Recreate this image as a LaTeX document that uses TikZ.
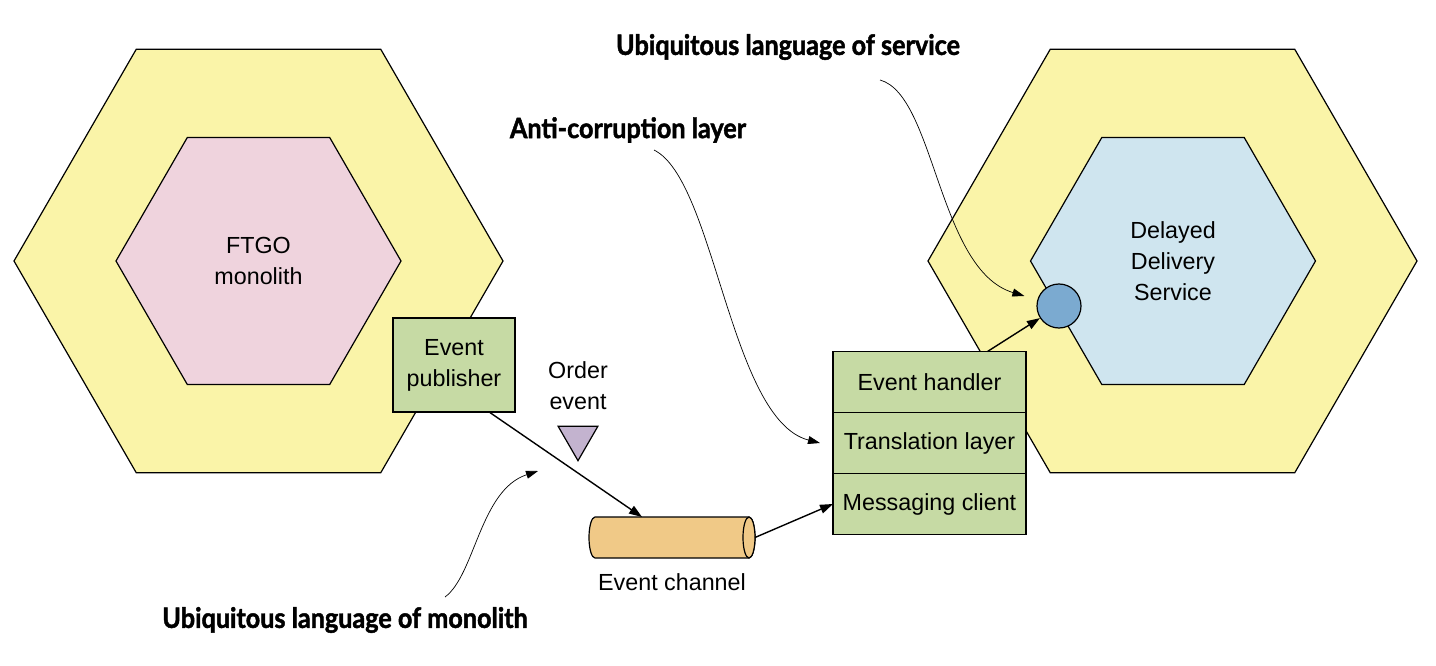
\documentclass[tikz,border=0pt]{standalone}
\usepackage{fontspec}
\setmainfont{Liberation Sans}
\newfontfamily\calloutfont[FakeStretch=0.9, BoldFeatures={FakeBold=1.6}]{Lato}
\usetikzlibrary{positioning,arrows.meta,calc,shapes.geometric}
\definecolor{HexYellow}{HTML}{FAF4A8}
\definecolor{MonoPink}{HTML}{EFD3DD}
\definecolor{SvcBlue}{HTML}{CFE5EF}
\definecolor{LayerGreen}{HTML}{C6DAA4}
\definecolor{PortBlue}{HTML}{7BAAD0}
\definecolor{EventLilac}{HTML}{C3B3CF}
\definecolor{ChanOrange}{HTML}{F0C987}

\begin{document}
\begin{tikzpicture}[
        x=1pt, y=-1pt,
        node distance=12pt,
        txt/.style={
            font=\fontsize{23.3}{31}\selectfont,
            align=center
        },
        outerhex/.style={
            regular polygon,
            regular polygon sides=6,
            minimum size=489pt,
            inner sep=0pt,
            draw,
            line width=1.2pt,
            fill=HexYellow
        },
        innerhex/.style={
            regular polygon,
            regular polygon sides=6,
            minimum size=285pt,
            inner sep=0pt,
            draw,
            line width=1.2pt,
            txt
        },
        layerbox/.style={
            draw,
            line width=1.2pt,
            fill=LayerGreen,
            minimum width=193pt,
            minimum height=61pt,
            inner sep=0pt,
            outer sep=0pt,
            txt
        },
        callout/.style={font=\calloutfont\bfseries\fontsize{28}{32}\selectfont},
        conn/.style={-{Triangle[length=13pt,width=9pt]}, line width=1.4pt},
        hint/.style={-{Triangle[length=12pt,width=8pt]}, line width=0.7pt}
    ]
        \useasboundingbox (0,0) rectangle (1436,666);

        % hexagons
        \node[outerhex] (monohex) at (258.5,261) {};
        \node[innerhex, fill=MonoPink] (mono) at (258.5,261) {FTGO\\monolith};
        \node[outerhex] (svchex) at (1172.5,261) {};
        \node[innerhex, fill=SvcBlue] (svc) at (1173,261) {Delayed\\Delivery\\Service};

        \node[draw, line width=1.2pt, fill=LayerGreen, minimum width=122pt, minimum height=94pt,
            inner sep=0pt, txt] (pub) at (454,365) {Event\\publisher};
        \node[circle, draw, line width=1.2pt, fill=PortBlue, minimum size=44pt, inner sep=0pt] (port) at (1059,306) {};

        % event and channel
        \node[regular polygon, regular polygon sides=3, shape border rotate=180, draw, line width=1.2pt,
            fill=EventLilac, minimum size=46pt, inner sep=0pt] (evt) at (578,437.7) {};
        \node[txt, above=12.5pt of evt] (evtlabel) {Order\\event};
        \node[minimum width=166pt, minimum height=41pt, inner sep=0pt, outer sep=0pt] (chan) at (672,537.5) {};
        \draw[line width=1.2pt, fill=ChanOrange] ([xshift=6pt]chan.north west)
            arc[start angle=90, end angle=270, x radius=6pt, y radius=20.5pt]
            -- ([xshift=-6pt]chan.south east)
            arc[start angle=-90, end angle=90, x radius=6pt, y radius=20.5pt] -- cycle;
        \draw[line width=1.2pt, fill=ChanOrange] ([xshift=-6pt]chan.east) ellipse[x radius=6pt, y radius=20.5pt];
        \node[txt, below=of chan] (chanlabel) {Event channel};

        % service side layers
        \node[layerbox] (handler) at (929.5,382) {Event handler};
        \node[layerbox, below=0pt of handler] (trans) {Translation layer};
        \node[layerbox, below=0pt of trans] (msg) {Messaging client};

        \draw[conn] ([xshift=36pt]pub.south) -- ([xshift=-30pt]chan.north);
        \draw[conn] (chan.east) -- (msg.west);
        \draw[conn] ([xshift=58pt]handler.north) -- (port);

        % callouts
        \node[callout] (svclang) at (788,47) {Ubiquitous language of service};
        \node[callout] (acl) at (628,130) {Anti-corruption layer};
        \node[callout] (monolang) at (345,620) {Ubiquitous language of monolith};
        \coordinate (svcstart) at (880,80);
        \coordinate (aclstart) at (654,150);
        \coordinate (monostart) at (445,597);
        \coordinate (monotip) at (538,471);

        \draw[hint] (svcstart) .. controls (935,95) and (938,270) .. ([xshift=-12pt,yshift=10pt]port.west);
        \draw[hint] (aclstart) .. controls (715,180) and (730,420) .. ([xshift=-13pt]trans.west);
        \draw[hint] (monostart) .. controls (475,575) and (480,490) .. (monotip);
    \end{tikzpicture}
\end{document}
